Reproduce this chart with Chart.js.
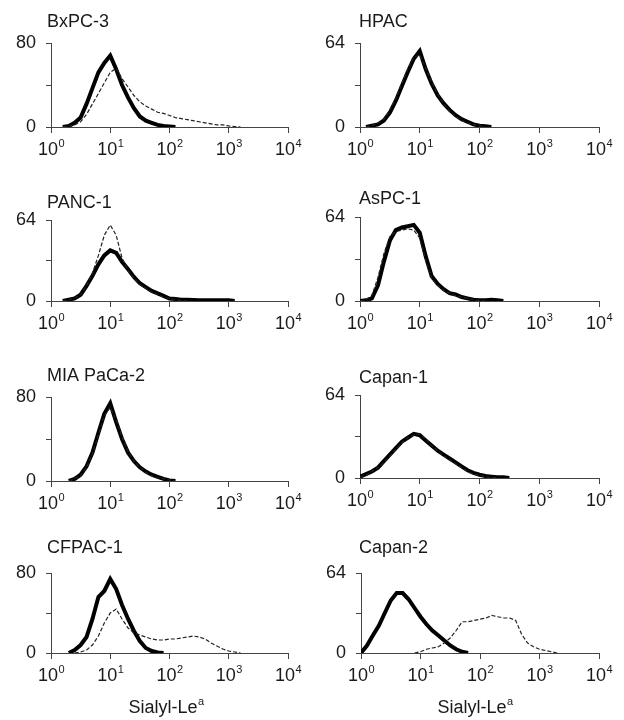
<!DOCTYPE html>
<html>
<head>
<meta charset="utf-8">
<script src="https://cdn.jsdelivr.net/npm/chart.js@4.4.1/dist/chart.umd.min.js"></script>
<style>
  body { margin: 0; background: #fff; }
  #wrap { position: relative; width: 624px; height: 720px; }
  #wrap canvas { position: absolute; }
</style>
</head>
<body>
<div id="wrap"></div>
<script>
// fluorescence channel (log spaced, 10^0 .. 10^3.5)
const fluor = [1, 1.26, 1.58, 2.0, 2.51, 3.16, 3.98, 5.01, 6.31, 7.94,
               10, 12.6, 15.8, 20.0, 25.1, 31.6, 39.8, 50.1, 63.1, 79.4,
               100, 126, 158, 200, 251, 316, 398, 501, 631, 794,
               1000, 1259, 1585, 1995, 2512, 3162];
const decades = [1, 10, 100, 1000, 10000];

const cellLines = ['BxPC-3', 'HPAC', 'PANC-1', 'AsPC-1', 'MIA PaCa-2', 'Capan-1', 'CFPAC-1', 'Capan-2'];
const yMax = [80, 64, 64, 64, 80, 64, 80, 64];

// cell counts, thick trace and thin dashed trace per cell line
const bxpc3Thick  = [0,0,0,1,4,9,22,37,52,61, 68,55,40,28,18,10,6,4,2,1, 0.5,0,0,0,0,0,0,0,0,0, 0,0,0,0,0,0];
const bxpc3Thin   = [0,0,0,1,2,5,12,22,32,42, 52,56,46,38,30,24,20,17,14,13, 11,9,8,7,6,5,4,3,2,2, 1,0.5,0,0,0,0];
const hpacThick   = [0,0,1,2,5,11,20,31,42,52, 58,44,33,24,18,13,9,6,4,2, 1,0.5,0,0,0,0,0,0,0,0, 0,0,0,0,0,0];
const hpacThin    = [0,0,1,3,6,13,22,33,44,53, 55,45,34,25,18,12,8,5,3,2, 1,0,0,0,0,0,0,0,0,0, 0,0,0,0,0,0];
const panc1Thick  = [0,0,0,1,2,5,12,20,29,36, 40,38,31,25,19,14,11,8,6,4, 2,1.5,1,1,0.8,0.6,0.6,0.5,0.5,0.5, 0.5,0,0,0,0,0];
const panc1Thin   = [0,0,0,1,2,5,12,22,36,52, 60,52,34,24,18,13,10,7,5,3, 2,1,0.5,0,0,0,0,0,0,0, 0,0,0,0,0,0];
const aspc1Thick  = [0,0.5,2,12,30,46,54,56,57,58, 52,34,19,13,9,6,5,3,2,1, 0.5,0.5,1,0.5,0,0,0,0,0,0, 0,0,0,0,0,0];
const aspc1Thin   = [0,1,4,18,36,49,53,54,55,54, 48,31,17,12,8,6,4,3,2,1, 0.5,0,0,0,0,0,0,0,0,0, 0,0,0,0,0,0];
const miaThick    = [0,0,0,0,2,6,14,27,46,64, 74,56,40,27,19,13,9,6,4,2, 0.5,0,0,0,0,0,0,0,0,0, 0,0,0,0,0,0];
const miaThin     = [0,0,0,0,2,5,13,26,44,62, 70,58,42,28,19,13,8,5,3,2, 1,0,0,0,0,0,0,0,0,0, 0,0,0,0,0,0];
const capan1Thick = [1,3,5,8,13,18,23,28,31,34, 33,29,25,21,18,15,12,9,6,4, 2.5,1.5,1,0.5,0.5,0,0,0,0,0, 0,0,0,0,0,0];
const capan1Thin  = [1,2,5,8,12,17,22,27,31,33, 34,30,25,21,17,14,11,8,5,3, 2,1,0.5,0,0,0,0,0,0,0, 0,0,0,0,0,0];
const cfpac1Thick = [0,0,0,0,3,8,16,34,56,62, 74,64,48,34,22,12,5,2,0.5,0, 0,0,0,0,0,0,0,0,0,0, 0,0,0,0,0,0];
const cfpac1Thin  = [0,0,0,0,0,1,3,8,17,30, 40,44,34,25,20,18,16,14,13,13, 14,14,15,16,17,16,14,10,7,4, 2,1,0,0,0,0];
const capan2Thick = [0,6,14,22,32,42,48,48,43,36, 29,23,18,14,10,6,3,1,0,0, 0,0,0,0,0,0,0,0,0,0, 0,0,0,0,0,0];
const capan2Thin  = [0,0,0,0,0,0,0,0,0,0, 1,3,4,5,8,12,18,25,25,26, 27,28,30,29,28,28,26,15,8,5, 3,2,1,0,0,0];

const thickSeries = [bxpc3Thick, hpacThick, panc1Thick, aspc1Thick, miaThick, capan1Thick, cfpac1Thick, capan2Thick];
const thinSeries  = [bxpc3Thin, hpacThin, panc1Thin, aspc1Thin, miaThin, capan1Thin, cfpac1Thin, capan2Thin];

// panel frames in canvas-local pixels (each canvas 312x180)
const frames = [
  { left: 51, right: 288, top: 43, bottom: 127, titleY: 27 },
  { left: 48, right: 287, top: 43, bottom: 127, titleY: 27 },
  { left: 51, right: 288, top: 40, bottom: 121, titleY: 28 },
  { left: 48, right: 287, top: 37, bottom: 121, titleY: 24 },
  { left: 51, right: 288, top: 37, bottom: 121, titleY: 21 },
  { left: 48, right: 287, top: 35, bottom: 118, titleY: 23 },
  { left: 51, right: 288, top: 33, bottom: 113, titleY: 13 },
  { left: 49, right: 287, top: 33, bottom: 113, titleY: 13 }
];

const FONT = '"Liberation Sans", Arial, sans-serif';
const INK = '#1a1a1a';
const AXIS = '#444';

function toPoints(vals) {
  const pts = [];
  vals.forEach((v, i) => {
    const prev = i > 0 ? vals[i - 1] : 0;
    const next = i < vals.length - 1 ? vals[i + 1] : 0;
    if (v > 0 || prev > 0 || next > 0) pts.push({ x: fluor[i], y: v });
  });
  return pts;
}

const panelText = {
  id: 'panelText',
  afterDraw(chart, args, opts) {
    const ctx = chart.ctx;
    const xs = chart.scales.x;
    const bottom = chart.chartArea.bottom;
    ctx.save();
    ctx.fillStyle = INK;
    ctx.textAlign = 'left';
    ctx.textBaseline = 'alphabetic';
    ctx.font = '18px ' + FONT;
    ctx.fillText(opts.title, opts.titleX, opts.titleY);

    decades.forEach((v, k) => {
      const px = xs.getPixelForValue(v);
      ctx.font = '18px ' + FONT;
      const w = ctx.measureText('10').width;
      ctx.font = '11px ' + FONT;
      const e = ctx.measureText(String(k)).width;
      const start = px - (w + e) / 2;
      ctx.font = '18px ' + FONT;
      ctx.fillText('10', start, bottom + 28);
      ctx.font = '11px ' + FONT;
      ctx.fillText(String(k), start + w + 0.5, bottom + 20);
    });

    if (opts.xLabel) {
      ctx.font = '18px ' + FONT;
      const base = 'Sialyl-Le';
      const w = ctx.measureText(base).width;
      ctx.font = '11px ' + FONT;
      const e = ctx.measureText('a').width;
      const start = opts.xLabelX - (w + e) / 2;
      ctx.font = '18px ' + FONT;
      ctx.fillText(base, start, 173);
      ctx.font = '11px ' + FONT;
      ctx.fillText('a', start + w + 0.5, 165);
    }
    ctx.restore();
  }
};

const wrap = document.getElementById('wrap');

cellLines.forEach((name, i) => {
  const f = frames[i];
  const col = i % 2, row = Math.floor(i / 2);
  const canvas = document.createElement('canvas');
  canvas.width = 312;
  canvas.height = 180;
  canvas.style.left = (col * 312) + 'px';
  canvas.style.top = (row * 180) + 'px';
  wrap.appendChild(canvas);
  const ym = yMax[i];

  new Chart(canvas, {
    type: 'line',
    data: {
      datasets: [
        { data: toPoints(thinSeries[i]), borderColor: '#222', borderWidth: 1.2, borderDash: [4, 2],
          pointRadius: 0, tension: 0, order: 0 },
        { data: toPoints(thickSeries[i]), borderColor: '#000', borderWidth: 4,
          pointRadius: 0, tension: 0, order: 1 }
      ]
    },
    options: {
      responsive: false,
      animation: false,
      layout: { padding: { left: 0, top: f.top, right: 312 - f.right, bottom: 0 } },
      plugins: {
        legend: { display: false },
        tooltip: { enabled: false },
        panelText: {
          title: name,
          titleX: 47,
          titleY: f.titleY,
          xLabel: row === 3,
          xLabelX: col === 0 ? 166 : 163
        }
      },
      scales: {
        x: {
          type: 'logarithmic',
          min: 1,
          max: 10000,
          afterBuildTicks: s => { s.ticks = decades.map(v => ({ value: v })); },
          afterFit: s => { s.height = 180 - f.bottom; },
          ticks: { display: false },
          grid: { drawOnChartArea: false, drawTicks: true, tickLength: 6, color: AXIS },
          border: { color: AXIS, width: 1 }
        },
        y: {
          min: 0,
          max: ym,
          afterFit: s => { s.width = f.left; },
          ticks: {
            stepSize: ym / 4,
            callback: v => (v === 0 || v === ym) ? String(v) : '',
            font: { size: 18, family: FONT },
            color: INK,
            padding: 10
          },
          grid: { drawOnChartArea: false, drawTicks: true, tickLength: 5, color: AXIS },
          border: { color: AXIS, width: 1 }
        }
      }
    },
    plugins: [panelText]
  });
});
</script>
</body>
</html>
